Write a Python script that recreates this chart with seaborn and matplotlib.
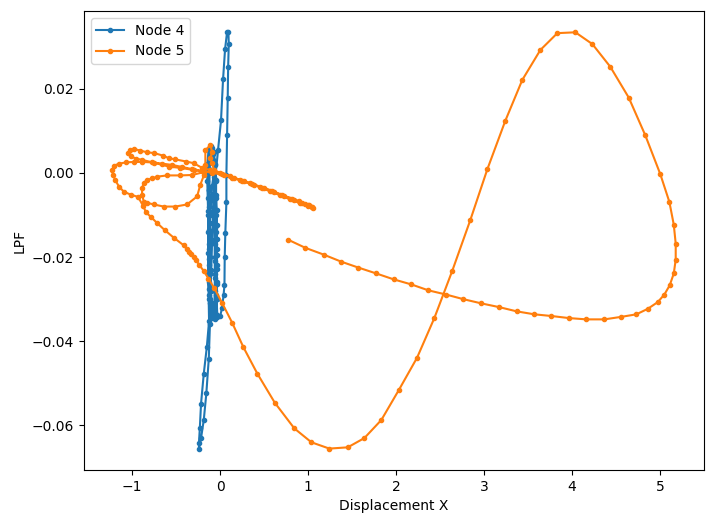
import matplotlib
matplotlib.use("Agg")
import matplotlib.pyplot as plt
import seaborn as sns
import pandas as pd

# ---------------- data ----------------
node4_x = [
    -0.07, -0.09, -0.10, -0.11, -0.12, -0.125, -0.125, -0.125, -0.12, -0.11, -0.09, -0.06, -0.04,
    -0.035, -0.035, -0.035, -0.035, -0.035, -0.035, -0.040, -0.045, -0.045, -0.057, -0.070, -0.100, -0.130,
    -0.145, -0.145, -0.140, -0.135, -0.130, -0.130, -0.130, -0.130, -0.120, -0.100, -0.075, -0.055,
    -0.050, -0.055, -0.055, -0.055, -0.055, -0.060, -0.065, -0.065, -0.075, -0.090, -0.115,
    -0.125, -0.130, -0.135, -0.135, -0.135, -0.135, -0.130, -0.125, -0.150, -0.185, -0.216, -0.230,
    -0.240, -0.240, -0.216, -0.185, -0.156, -0.128, -0.115,
    -0.110, -0.100, -0.090, -0.080, -0.057, -0.023, 0.011, 0.034, 0.057, 0.080, 0.095, 0.099,
    0.092, 0.087, 0.080, 0.072, 0.072, 0.060, 0.053, 0.050, 0.040, 0.023, 0.003, -0.030,
    -0.040, -0.040, -0.040, -0.040, -0.042, -0.045, -0.045, -0.050, -0.060, -0.075, -0.095, -0.115,
    -0.120, -0.120, -0.120, -0.115, -0.110, -0.110, -0.110, -0.105, -0.095, -0.080, -0.065,
    -0.060, -0.060, -0.060, -0.062, -0.065, -0.070, -0.075,
]
node4_y = [
    0.0000, -0.0030, -0.0064, -0.0100, -0.0135, -0.0170, -0.0205, -0.0240, -0.0276, -0.0310, -0.0338, -0.0348, -0.0338,
    -0.0300, -0.0264, -0.0229, -0.0194, -0.0158, -0.0123, -0.0087, -0.0052, -0.0017, 0.0019, 0.0050, 0.0064, 0.0055,
    0.0020, -0.0020, -0.0060, -0.0100, -0.0140, -0.0180, -0.0220, -0.0260, -0.0300, -0.0330, -0.0345, -0.0332,
    -0.0290, -0.0250, -0.0210, -0.0170, -0.0130, -0.0090, -0.0050, -0.0010, 0.0030, 0.0055, 0.0050,
    0.0010, -0.0040, -0.0090, -0.0140, -0.0190, -0.0240, -0.0290, -0.0352, -0.0413, -0.0477, -0.0548, -0.0607,
    -0.0642, -0.0656, -0.0630, -0.0587, -0.0524, -0.0441, -0.0360,
    -0.0300, -0.0230, -0.0160, -0.0090, -0.0017, 0.0054, 0.0125, 0.0222, 0.0294, 0.0335, 0.0335, 0.0306,
    0.0252, 0.0178, 0.0090, -0.0005, -0.0070, -0.0142, -0.0200, -0.0267, -0.0290, -0.0320, -0.0339, -0.0342,
    -0.0300, -0.0260, -0.0220, -0.0180, -0.0140, -0.0100, -0.0060, -0.0020, 0.0020, 0.0045, 0.0058, 0.0040,
    0.0000, -0.0040, -0.0080, -0.0120, -0.0160, -0.0200, -0.0240, -0.0280, -0.0310, -0.0325, -0.0315,
    -0.0280, -0.0240, -0.0200, -0.0160, -0.0120, -0.0080, -0.0050,
]

node5_x = [
    0.776, 0.969, 1.176, 1.378, 1.572, 1.776, 1.974, 2.174, 2.367, 2.568, 2.765, 2.969, 3.174, 3.372,
    3.572, 3.765, 3.969, 4.163, 4.367, 4.560, 4.731, 4.860, 4.974, 5.049, 5.110, 5.156, 5.178, 5.178,
    5.156, 5.106, 5.003, 4.833, 4.644, 4.435, 4.231, 4.038, 3.833, 3.640, 3.435, 3.242, 3.038, 2.844,
    2.640, 2.435, 2.239, 2.034, 1.833, 1.640, 1.451, 1.242, 1.038, 0.844, 0.622, 0.424, 0.265, 0.140,
    0.026, -0.065, -0.133, -0.182, -0.235, -0.273, -0.299, -0.326, -0.349, -0.375, -0.413, -0.526,
    -0.628, -0.716, -0.784, -0.841, -0.875,
    -0.932, -1.011, -1.091, -1.148, -1.190, -1.216, -1.227, -1.205, -1.148, -1.068, -0.977, -0.886,
    -0.773, -0.659, -0.545, -0.432, -0.318, -0.205, -0.091,
    0.045, 0.159, 0.273, 0.386, 0.500, 0.614, 0.727, 0.841, 0.932, 1.000, 1.045,
    1.000, 0.909, 0.795, 0.682, 0.568, 0.455, 0.341, 0.227, 0.114, 0.000, -0.114,
    -0.205, -0.299, -0.383, -0.508, -0.583, -0.648, -0.747, -0.830, -0.906, -0.981, -1.019, -1.045,
    -1.011, -0.955, -0.886, -0.750, -0.583, -0.455, -0.299, -0.182,
    -0.318, -0.455, -0.602, -0.716, -0.773, -0.830, -0.867, -0.886, -0.886, -0.867, -0.830, -0.753,
    -0.640, -0.508, -0.375, -0.261, -0.224, -0.182, -0.167, -0.167, -0.110, -0.091, -0.110, -0.091,
    -0.068,
    0.023, 0.136, 0.250, 0.364, 0.477, 0.591, 0.705, 0.818, 0.898, 0.966, 1.011, 1.040, 1.057,
]
node5_y = [
    -0.0159, -0.0178, -0.0194, -0.0211, -0.0225, -0.0239, -0.0253, -0.0265, -0.0279, -0.0289, -0.0300, -0.0310, -0.0319, -0.0329,
    -0.0336, -0.0340, -0.0345, -0.0348, -0.0348, -0.0342, -0.0336, -0.0323, -0.0307, -0.0289, -0.0267, -0.0239, -0.0206, -0.0168,
    -0.0123, -0.0069, -0.0003, 0.0089, 0.0179, 0.0252, 0.0306, 0.0334, 0.0332, 0.0292, 0.0221, 0.0124, 0.0009, -0.0112,
    -0.0232, -0.0345, -0.0439, -0.0515, -0.0587, -0.0630, -0.0652, -0.0655, -0.0640, -0.0607, -0.0546, -0.0477, -0.0414, -0.0357,
    -0.0310, -0.0274, -0.0251, -0.0234, -0.0219, -0.0207, -0.0199, -0.0192, -0.0187, -0.0182, -0.0172, -0.0154,
    -0.0136, -0.0119, -0.0105, -0.0094, -0.0078,
    -0.0057, -0.0052, -0.0045, -0.0033, -0.0017, -0.0005, 0.0007, 0.0017, 0.0022, 0.0025, 0.0026, 0.0026,
    0.0025, 0.0022, 0.0019, 0.0014, 0.0009, 0.0005, 0.0000,
    -0.0005, -0.0012, -0.0019, -0.0028, -0.0035, -0.0045, -0.0054, -0.0064, -0.0071, -0.0076, -0.0080,
    -0.0078, -0.0072, -0.0063, -0.0053, -0.0044, -0.0034, -0.0025, -0.0017, -0.0008, 0.0000, 0.0007,
    0.0012, 0.0023, 0.0027, 0.0032, 0.0035, 0.0041, 0.0047, 0.0049, 0.0053, 0.0057, 0.0054, 0.0047,
    0.0039, 0.0034, 0.0031, 0.0024, 0.0015, 0.0012, 0.0007, 0.0002,
    -0.0005, -0.0006, -0.0006, -0.0009, -0.0013, -0.0017, -0.0024, -0.0036, -0.0052, -0.0068, -0.0071, -0.0075,
    -0.0080, -0.0080, -0.0075, -0.0056, -0.0028, -0.0005, 0.0019, 0.0054, 0.0066, 0.0050, 0.0035, 0.0023,
    0.0007,
    -0.0002, -0.0011, -0.0019, -0.0027, -0.0035, -0.0044, -0.0053, -0.0061, -0.0067, -0.0073, -0.0077, -0.0080, -0.0083,
]

series_names = ["Node 4", "Node 5"]
series_colors = ["#1f77b4", "#ff7f0e"]

# ---------------- plot ----------------
fig = plt.figure(figsize=(7.11, 5.25), dpi=100)
ax = fig.add_axes([0.118, 0.105, 0.872, 0.874])

for name, xs, ys, col in zip(series_names, [node4_x, node5_x], [node4_y, node5_y], series_colors):
    df = pd.DataFrame({"x": xs, "y": ys})
    sns.lineplot(data=df, x="x", y="y", sort=False, estimator=None, ax=ax,
                 color=col, marker=".", markersize=6, markeredgecolor=col,
                 markeredgewidth=1.0, linewidth=1.5, label=name)

ax.set_xlabel("Displacement X")
ax.set_ylabel("LPF")
ax.legend(loc="upper left")

fig.savefig("out.png", dpi=100)
